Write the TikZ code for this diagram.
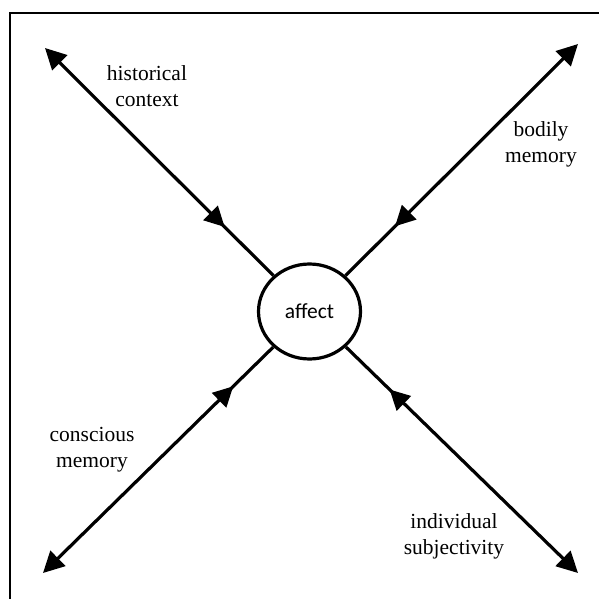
\documentclass[tikz,border=0pt]{standalone}
\usepackage{fontspec}
\setmainfont{Liberation Serif}
\newfontfamily\affectfont{Carlito}
\usetikzlibrary{arrows.meta,decorations.markings,shapes.geometric}

\newlength{\du}
\setlength{\du}{1pt}

\tikzset{
  leg/.style={line width=3.2\du, -{Triangle[length=21pt,width=21pt]},
    postaction={decorate},
    decoration={markings,
      mark=at position #1pt with {\arrowreversed{Triangle[length=20pt,width=20pt]}}}},
  legtext/.style={align=center, inner sep=0pt,
    font=\fontsize{21.5}{26}\selectfont},
}

\begin{document}
\begin{tikzpicture}
\pgftransformxscale{1.000000}
\pgftransformyscale{-1.000000}
\useasboundingbox (0\du,0\du) rectangle (599\du,599\du);
% frame, only left and top edge inside the page
\draw[line width=2.8\du] (10\du,599\du) -- (10\du,13\du) -- (599\du,13\du);
% centre
\node[ellipse, draw, line width=3.2\du, minimum width=102\du, minimum height=95\du,
  inner sep=0pt, font=\affectfont\fontsize{21.5}{26}\selectfont]
  (affect) at (309.5\du,311.5\du) {affect};
% outer ends
\coordinate (tl) at (45\du,48\du);
\coordinate (tr) at (578\du,44\du);
\coordinate (bl) at (43\du,573\du);
\coordinate (br) at (578\du,573\du);
\draw[leg=69] (affect) -- (tl);
\draw[leg=70] (affect) -- (tr);
\draw[leg=56] (affect) -- (bl);
\draw[leg=61] (affect) -- (br);
% setfont left to latex
\node[legtext] (hist) at (147\du,86.5\du) {historical\\context};
\node[legtext] (body) at (541\du,144\du) {bodily\\memory};
\node[legtext] (consc) at (92\du,450\du) {conscious\\memory};
\node[legtext] (indiv) at (454\du,536\du) {individual\\subjectivity};
\end{tikzpicture}
\end{document}
